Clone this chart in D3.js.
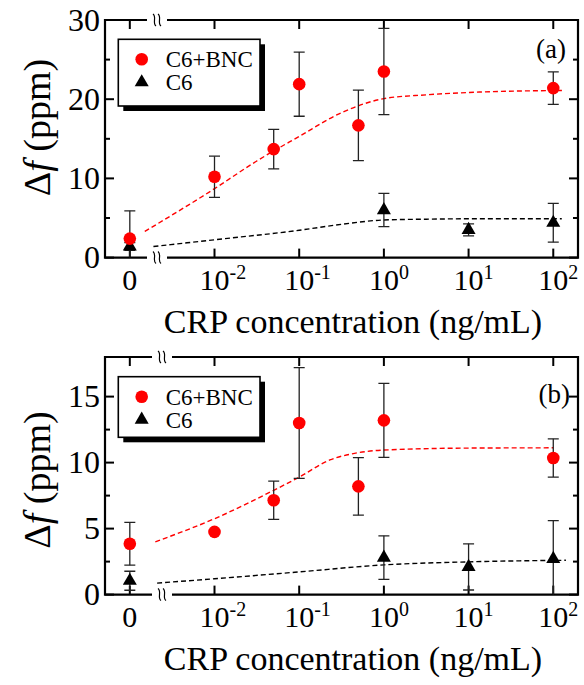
<!DOCTYPE html>
<html>
<head>
<meta charset="utf-8">
<script src="https://cdn.jsdelivr.net/npm/d3@7"></script>
<style>
body { margin: 0; background: #fff; }
text { font-family: "Liberation Serif", "Times New Roman", serif; fill: #000; }
</style>
</head>
<body>
<div id="chart"></div>
<script>
// x ticks (0 is drawn on the broken part of the axis)
var xTicks = [0, 1e-2, 1e-1, 1, 10, 100];
var xTickExp = [null, "-2", "-1", "0", "1", "2"];

// panel (a)
var yTicksA = [0, 10, 20, 30];
var yMinorA = [5, 15, 25];
var concA_bnc = [0, 0.01, 0.05, 0.1, 0.5, 1, 100];
var valA_bnc = [2.4, 10.2, 13.7, 21.9, 16.7, 23.5, 21.4];
var errA_bnc = [3.5, 2.6, 2.5, 4.05, 4.45, 5.45, 2.05];
var concA_c6 = [0, 1, 10, 100];
var valA_c6 = [1.4, 6.0, 3.5, 4.4];
var errA_c6 = [0.5, 2.1, 0.75, 2.45];
var fitA_bnc = [[0.0015, 3.3], [0.01, 8.7], [0.0316, 12.2], [0.1, 15.3], [0.316, 18.3],
    [1, 20.07], [3.16, 20.55], [13.5, 20.9], [129, 21.1]];
var fitA_c6 = [[0.0019, 1.4], [0.01, 2.25], [0.1, 3.45], [0.316, 4.2], [1, 4.75],
    [3.16, 4.85], [10, 4.9], [126, 4.9]];

// panel (b)
var yTicksB = [0, 5, 10, 15];
var yMinorB = [2.5, 7.5, 12.5];
var concB_bnc = [0, 0.01, 0.05, 0.1, 0.5, 1, 100];
var valB_bnc = [3.85, 4.75, 7.15, 13.0, 8.2, 13.2, 10.35];
var errB_bnc = [1.62, 0, 1.45, 4.2, 2.18, 2.8, 1.45];
var concB_c6 = [0, 1, 10, 100];
var valB_c6 = [1.05, 2.8, 2.1, 2.7];
var errB_c6 = [0.72, 1.65, 1.75, 2.9];
var fitB_bnc = [[0.002, 4.0], [0.01, 5.75], [0.05, 7.9], [0.1, 8.9], [0.23, 10.2],
    [0.45, 10.7], [1, 10.95], [10, 11.1], [100, 11.12]];
var fitB_c6 = [[0.0021, 0.87], [0.01, 1.2], [0.1, 1.72], [1, 2.25], [10, 2.48], [141, 2.6]];

var seriesNames = ["C6+BNC", "C6"];

var W = 584, H = 685;
var margin = {left: 105, right: 6};
var plotW = W - margin.left - margin.right;
var plotH = 237.6;
var ZERO_AT = 1e-3;   // where the "0" category sits on the log axis
var RED = "#ff0000";

var svg = d3.select("#chart").append("svg")
    .attr("width", W).attr("height", H);

// log scale spanning the plot, 0 is put at 10^-3
var x = d3.scaleLog()
    .domain([Math.pow(10, -3.293), Math.pow(10, 2.292)])
    .range([0, plotW]);
function xPos(c) { return x(c === 0 ? ZERO_AT : c); }

function drawPanel(opt) {
    var g = svg.append("g")
        .attr("transform", "translate(" + margin.left + "," + opt.top + ")");
    var y = d3.scaleLinear().domain([0, opt.yMax]).range([plotH, 0]);

    var clipId = "clip-" + opt.id;
    g.append("clipPath").attr("id", clipId)
        .append("rect").attr("width", plotW).attr("height", plotH);

    // frame with the axis break
    var bx0 = opt.breakX - 10, bx1 = opt.breakX + 10;
    var frame = g.append("g").attr("stroke", "#000").attr("stroke-width", 2.2).attr("fill", "none");
    frame.append("path").attr("d",
        "M" + bx0 + ",0 H0 V" + plotH + " H" + bx0);
    frame.append("path").attr("d",
        "M" + bx1 + ",0 H" + plotW + " V" + plotH + " H" + bx1);
    [0, plotH].forEach(function(yy) {
        [-2.5, 2.5].forEach(function(dx) {
            var cx = opt.breakX + dx;
            g.append("path")
                .attr("d", "M" + (cx - 1.5) + "," + (yy - 6) + " C" + (cx + 2.5) + "," + (yy - 3) +
                    " " + (cx - 2.5) + "," + (yy + 3) + " " + (cx + 1.5) + "," + (yy + 6))
                .attr("fill", "none").attr("stroke", "#000").attr("stroke-width", 1.2);
        });
    });

    // y ticks, inward on both sides
    var ticks = g.append("g").attr("stroke", "#000").attr("stroke-width", 2);
    opt.yTicks.forEach(function(v) {
        ticks.append("line").attr("x1", 0).attr("x2", 9).attr("y1", y(v)).attr("y2", y(v));
        ticks.append("line").attr("x1", plotW).attr("x2", plotW - 9).attr("y1", y(v)).attr("y2", y(v));
        g.append("text").attr("x", -5).attr("y", y(v)).attr("dy", "0.34em")
            .attr("text-anchor", "end").style("font-size", "32px").text(v);
    });
    opt.yMinor.forEach(function(v) {
        ticks.append("line").attr("x1", 0).attr("x2", 5).attr("y1", y(v)).attr("y2", y(v));
        ticks.append("line").attr("x1", plotW).attr("x2", plotW - 5).attr("y1", y(v)).attr("y2", y(v));
    });

    // x ticks, inward top and bottom
    xTicks.forEach(function(c, i) {
        var px = xPos(c);
        ticks.append("line").attr("x1", px).attr("x2", px).attr("y1", plotH).attr("y2", plotH - 9);
        ticks.append("line").attr("x1", px).attr("x2", px).attr("y1", 0).attr("y2", 9);
        var t = g.append("text").attr("y", plotH + 32).style("font-size", "30px");
        if (xTickExp[i] === null) {
            t.attr("x", px).attr("text-anchor", "middle").text("0");
        } else {
            t.attr("x", px - 15);
            t.append("tspan").text("10");
            t.append("tspan").attr("dy", -11).style("font-size", "20px").text(xTickExp[i]);
        }
    });

    // axis titles
    g.append("text")
        .attr("x", 248).attr("y", plotH + 75.5)
        .attr("text-anchor", "middle").style("font-size", "34px")
        .text("CRP concentration (ng/mL)");
    var yt = g.append("text")
        .attr("transform", "translate(" + (50 - margin.left) + "," + opt.yTitleY + ") rotate(-90)")
        .attr("text-anchor", "middle").style("font-size", "38px");
    yt.append("tspan").text("\u0394");
    yt.append("tspan").style("font-style", "italic").text("f");
    yt.append("tspan").text(" (ppm)");

    // panel letter
    g.append("text").attr("x", opt.letterX).attr("y", opt.letterY)
        .attr("text-anchor", "end").style("font-size", "27px").text(opt.letter);

    var plot = g.append("g").attr("clip-path", "url(#" + clipId + ")");

    // fitted curves
    var line = d3.line()
        .x(function(d) { return x(d[0]); })
        .y(function(d) { return y(d[1]); })
        .curve(d3.curveMonotoneX);
    plot.append("path").datum(opt.fitC6).attr("d", line)
        .attr("fill", "none").attr("stroke", "#000").attr("stroke-width", 1.4)
        .attr("stroke-dasharray", "5,3");
    plot.append("path").datum(opt.fitBnc).attr("d", line)
        .attr("fill", "none").attr("stroke", RED).attr("stroke-width", 1.4)
        .attr("stroke-dasharray", "5,3");

    // error bars
    function errorBars(conc, vals, errs) {
        conc.forEach(function(c, i) {
            if (!errs[i]) return;
            var px = xPos(c), y0 = y(vals[i] - errs[i]), y1 = y(vals[i] + errs[i]);
            var eb = plot.append("g").attr("stroke", "#222").attr("stroke-width", 1.3);
            eb.append("line").attr("x1", px).attr("x2", px).attr("y1", y0).attr("y2", y1);
            eb.append("line").attr("x1", px - 5.5).attr("x2", px + 5.5).attr("y1", y0).attr("y2", y0);
            eb.append("line").attr("x1", px - 5.5).attr("x2", px + 5.5).attr("y1", y1).attr("y2", y1);
        });
    }
    errorBars(opt.concC6, opt.valC6, opt.errC6);
    errorBars(opt.concBnc, opt.valBnc, opt.errBnc);

    var tri = d3.symbol().type(d3.symbolTriangle).size(85);
    plot.selectAll("path.c6").data(opt.concC6).enter().append("path")
        .attr("class", "c6")
        .attr("transform", function(c, i) { return "translate(" + xPos(c) + "," + y(opt.valC6[i]) + ")"; })
        .attr("d", tri).attr("fill", "#000");
    plot.selectAll("circle.bnc").data(opt.concBnc).enter().append("circle")
        .attr("class", "bnc")
        .attr("cx", function(c) { return xPos(c); })
        .attr("cy", function(c, i) { return y(opt.valBnc[i]); })
        .attr("r", 6.3).attr("fill", RED);

    // legend with drop shadow
    var lg = g.append("g").attr("transform", "translate(13.3," + opt.legendY + ")");
    lg.append("rect").attr("x", 5).attr("y", 5).attr("width", 141.7).attr("height", opt.legendH)
        .attr("fill", "#000");
    lg.append("rect").attr("width", 141.7).attr("height", opt.legendH)
        .attr("fill", "#fff").attr("stroke", "#000").attr("stroke-width", 1.6);
    lg.append("circle").attr("cx", 23.4).attr("cy", 20).attr("r", 6.3).attr("fill", RED);
    lg.append("path").attr("transform", "translate(23.4,43)").attr("d", tri).attr("fill", "#000");
    lg.append("text").attr("x", 47.4).attr("y", 20).attr("dy", "0.35em")
        .style("font-size", "23px").text(seriesNames[0]);
    lg.append("text").attr("x", 47.4).attr("y", 43).attr("dy", "0.35em")
        .style("font-size", "23px").text(seriesNames[1]);
}

drawPanel({
    id: "a", top: 20, yMax: 30, yTicks: yTicksA, yMinor: yMinorA,
    concBnc: concA_bnc, valBnc: valA_bnc, errBnc: errA_bnc,
    concC6: concA_c6, valC6: valA_c6, errC6: errA_c6,
    fitBnc: fitA_bnc, fitC6: fitA_c6,
    breakX: 52, yTitleY: 107.5, letter: "(a)", letterX: 461, letterY: 38,
    legendY: 19.3, legendH: 66.7
});
drawPanel({
    id: "b", top: 357, yMax: 18, yTicks: yTicksB, yMinor: yMinorB,
    concBnc: concB_bnc, valBnc: valB_bnc, errBnc: errB_bnc,
    concC6: concB_c6, valC6: valB_c6, errC6: errB_c6,
    fitBnc: fitB_bnc, fitC6: fitB_c6,
    breakX: 57, yTitleY: 123, letter: "(b)", letterX: 465, letterY: 46,
    legendY: 19.7, legendH: 60.6
});
</script>
</body>
</html>
